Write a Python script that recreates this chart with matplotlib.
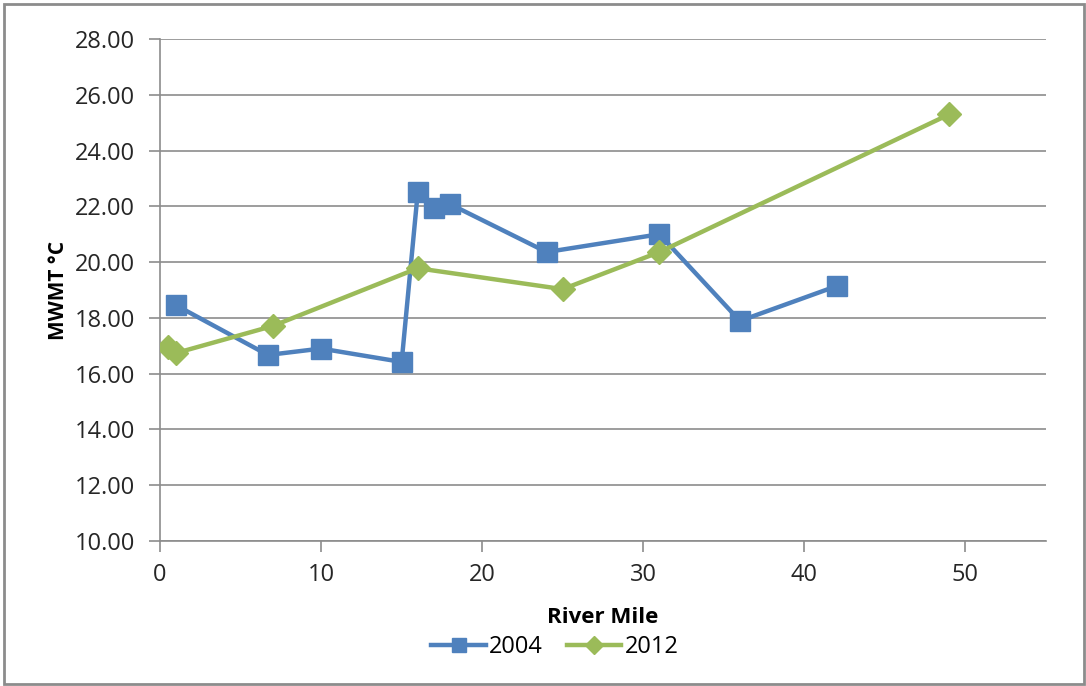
import matplotlib.pyplot as plt
from matplotlib.patches import Rectangle

# stream temperature survey, MWMT by river mile
mile_2004 = [1, 6.7, 10, 15, 16, 17, 18, 24, 31, 36, 42]
mwmt_2004 = [18.45, 16.67, 16.9, 16.42, 22.5, 21.94, 22.08, 20.36, 21.0, 17.89, 19.14]

mile_2012 = [0.5, 1, 7, 16, 25, 31, 49]
mwmt_2012 = [16.95, 16.74, 17.71, 19.78, 19.03, 20.36, 25.3]

y_ticks = [10, 12, 14, 16, 18, 20, 22, 24, 26, 28]
x_ticks = [0, 10, 20, 30, 40, 50]

plt.rcParams['font.family'] = ['Open Sans', 'DejaVu Sans']
grey = '#8c8c8c'

fig = plt.figure(figsize=(10.86, 6.86), dpi=100)
ax = fig.add_axes([160 / 1086, 1 - 541 / 686, (1046 - 160) / 1086, (541 - 39) / 686])

ax.plot(mile_2004, mwmt_2004, color='#4F81BD', lw=3.2, marker='s', ms=14,
        label='2004', zorder=3)
ax.plot(mile_2012, mwmt_2012, color='#9BBB59', lw=3.2, marker='D', ms=12,
        label='2012', zorder=4)

ax.set_xlim(0, 55)
ax.set_ylim(10, 28)
ax.set_xticks(x_ticks)
ax.set_yticks(y_ticks)
ax.set_yticklabels([f'{v:.2f}' for v in y_ticks])
ax.yaxis.grid(True, color=grey, lw=1.2)
ax.set_axisbelow(True)

for side in ['top', 'right']:
    ax.spines[side].set_visible(False)
for side in ['left', 'bottom']:
    ax.spines[side].set_color(grey)
    ax.spines[side].set_linewidth(1.2)
ax.tick_params(axis='both', colors=grey, labelcolor='#262626', labelsize=17,
               length=8, width=1.2)
ax.tick_params(axis='y', pad=10)
ax.tick_params(axis='x', pad=8)

ax.set_xlabel('River Mile', fontsize=16, fontweight='bold', labelpad=14)
ax.set_ylabel('MWMT \u00b0C', fontsize=15, fontweight='bold', labelpad=4)

fig.legend(loc='center', bbox_to_anchor=(555 / 1086, 1 - 647 / 686), ncol=2,
           frameon=False, fontsize=17, handlelength=2.3, columnspacing=1.0,
           handletextpad=0.15, markerscale=0.75)

# thin frame around the whole chart
fig.patches.append(Rectangle((4 / 1086, 2 / 686), 1080 / 1086, 680 / 686,
                             transform=fig.transFigure, fill=False,
                             edgecolor='#8c8c8c', lw=2))

fig.savefig('out.png', dpi=100)
